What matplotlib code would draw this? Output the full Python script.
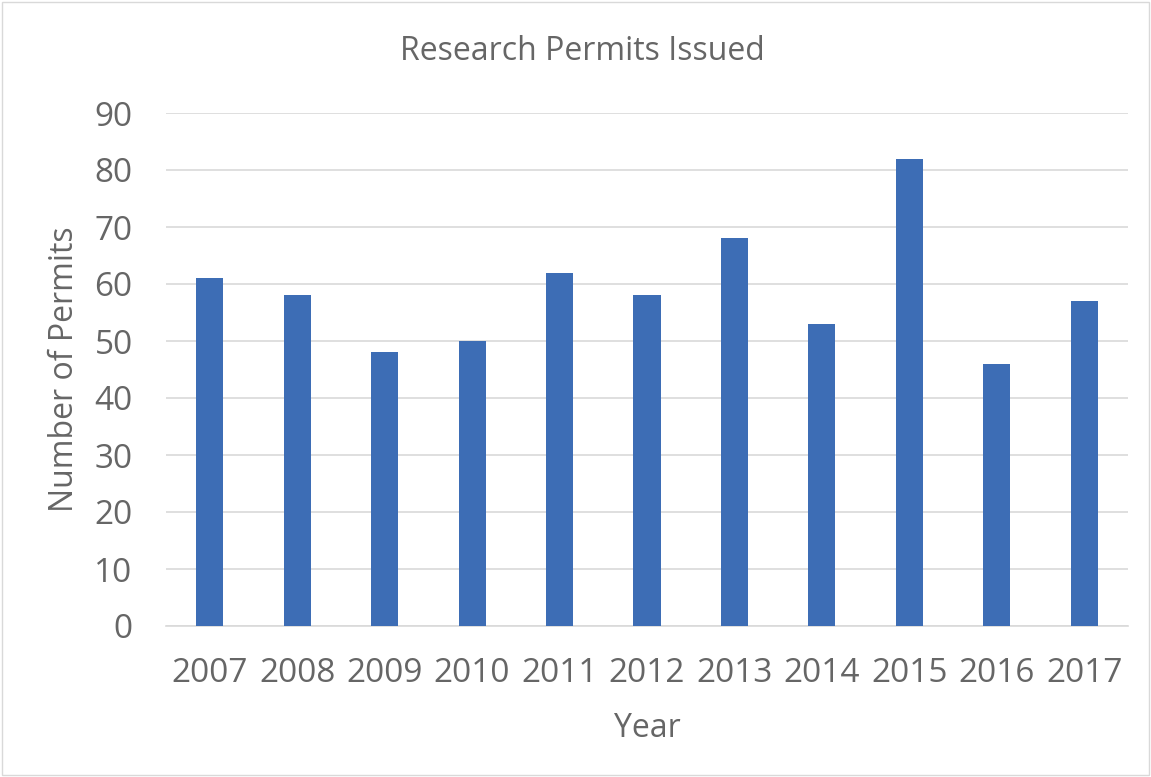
import matplotlib.pyplot as plt
from matplotlib.patches import Rectangle

years = ["2007", "2008", "2009", "2010", "2011", "2012", "2013", "2014", "2015", "2016", "2017"]
permits = [61, 58, 48, 50, 62, 58, 68, 53, 82, 46, 57]
yticks = [0, 10, 20, 30, 40, 50, 60, 70, 80, 90]

def main():
    plt.rcParams['font.family'] = ['Open Sans', 'DejaVu Sans']
    grey = "#666666"

    fig = plt.figure(figsize=(11.51, 7.77), dpi=100)
    ax = fig.add_axes([166 / 1151, 1 - 626 / 777, (1128 - 166) / 1151, (626 - 113) / 777])

    x = list(range(len(years)))
    ax.bar(x, permits, width=0.31, color="#3D6DB5", zorder=3)

    ax.set_xlim(-0.5, len(years) - 0.5)
    ax.set_ylim(0, 90)
    ax.set_yticks(yticks)
    ax.set_xticks(x)
    ax.set_xticklabels(years)
    ax.tick_params(axis="both", length=0, labelsize=24, colors=grey)
    ax.tick_params(axis="y", pad=24)
    ax.tick_params(axis="x", pad=22)
    ax.grid(axis="y", color="#D9D9D9", linewidth=1.2, zorder=0)
    for s in ["top", "right", "left"]:
        ax.spines[s].set_visible(False)
    ax.spines["bottom"].set_color("#D9D9D9")
    ax.spines["bottom"].set_linewidth(1.2)

    ax.set_xlabel("Year", fontsize=23, color=grey, labelpad=16)
    ax.set_ylabel("Number of Permits", fontsize=23, color=grey, labelpad=10)
    fig.text(582 / 1151, 1 - 51 / 777, "Research Permits Issued", fontsize=23,
             color=grey, ha="center", va="center")

    fig.patches.append(Rectangle((0.002, 0.002), 0.996, 0.996, transform=fig.transFigure,
                                 fill=False, edgecolor="#D9D9D9", linewidth=1))

    plt.savefig("out.png", dpi=100)

if __name__ == "__main__":
    main()
